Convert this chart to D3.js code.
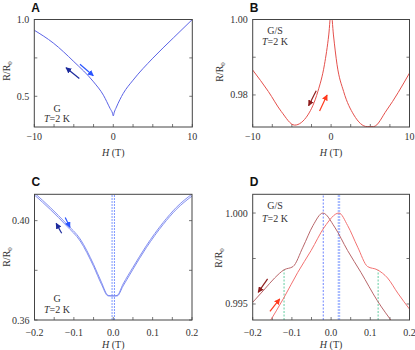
<!DOCTYPE html>
<html lang="en">
<head>
<meta charset="UTF-8">
<title>R/R0 vs H</title>
<style>
    body{margin:0;background:#fff;}
    svg{display:block;}
    .tick{font-family:"Liberation Serif",serif;font-size:10px;fill:#333;}
    .lbl{font-family:"Liberation Serif",serif;font-size:10px;fill:#333;}
    .pan{font-family:"Liberation Sans",Arial,sans-serif;font-size:12px;font-weight:bold;fill:#111;}
</style>
<script src="https://cdn.jsdelivr.net/npm/d3@7"></script>
</head>
<body>
<script>
// panel A : graphene, wide field
const hA = [-10,-7.6,-5,-2.5,-1.25,-0.4,-0.1,0,0.1,0.4,1.25,2.5,5,7.6,10]
const rA = [0.93,0.847,0.726,0.594,0.507,0.42,0.39,0.372,0.392,0.43,0.518,0.605,0.748,0.88,1.0]
// panel B : G/S, wide field
const hB = [-10,-8,-6.35,-4.65,-2.96,-1.69,-0.85,-0.3,0,0.3,0.76,1.6,2.9,4.6,5.4,7.1,10]
const rB = [0.9866,0.9809,0.9756,0.9720,0.9747,0.9809,0.988,0.9959,1.002,0.9959,0.988,0.9809,0.9747,0.9716,0.9716,0.976,0.9858]
// panel C : graphene, low field (two sweeps)
const hC = [-0.2,-0.16,-0.118,-0.084,-0.05,-0.03,-0.013,0,0.01,0.025,0.05,0.084,0.127,0.16,0.2]
const rCdown = [0.4111,0.4053,0.3986,0.3926,0.3824,0.3752,0.3699,0.3697,0.3697,0.3737,0.3804,0.3891,0.3985,0.4045,0.4099]
const rCup   = [0.4103,0.4045,0.3978,0.3918,0.3816,0.3744,0.3697,0.3697,0.3699,0.3745,0.3812,0.3899,0.3993,0.4053,0.4107]
// panel D : G/S, low field (two sweeps)
const hDdown = [-0.2,-0.169,-0.144,-0.12,-0.097,-0.072,-0.046,-0.021,0.009,0.042,0.076,0.118,0.16]
const rDdown = [0.99509,0.99583,0.99643,0.99688,0.99706,0.99812,0.99932,1.000,0.99923,0.99794,0.99674,0.99518,0.9939]
const hDup = [-0.16,-0.12,-0.085,-0.051,-0.017,0.02,0.042,0.068,0.093,0.118,0.144,0.17,0.2]
const rDup = [0.9939,0.99536,0.99674,0.99794,0.99923,1.000,0.99932,0.99812,0.99706,0.99688,0.99643,0.9956,0.99472]

const panels = [
    {id:"A", x0:34.3, x1:192.3, y0:19.5, y1:127, xd:[-10,10], yd:[0.30,1.0],
     xt:d3.range(-10,10.01,2.5), xl:[-10,0,10], xf:d3.format("d"),
     yt:[0.5,0.75,1.0], yl:[0.5,1.0], yf:d3.format(".1f"),
     ylab:[10,71], tbase:140, title:156, note:["G",57,111.5,121.5]},
    {id:"B", x0:252.7, x1:409.5, y0:19.5, y1:127, xd:[-10,10], yd:[0.9715,1.0],
     xt:d3.range(-10,10.01,2.5), xl:[-10,0,10], xf:d3.format("d"),
     yt:[0.98,0.99,1.0], yl:[0.98,1.0], yf:d3.format(".2f"),
     ylab:[223,72], tbase:140, title:156, note:["G/S",275,34,45]},
    {id:"C", x0:34.5, x1:192, y0:194.3, y1:320, xd:[-0.2,0.2], yd:[0.36,0.4106],
     xt:d3.range(-0.2,0.201,0.05), xl:[-0.2,-0.1,0,0.1,0.2], xf:d3.format(".1f"),
     yt:[0.36,0.38,0.40], yl:[0.36,0.40], yf:d3.format(".2f"),
     ylab:[10,257], tbase:336, title:348, note:["G",57,302,313]},
    {id:"D", x0:252.7, x1:409.5, y0:194.3, y1:320, xd:[-0.2,0.2], yd:[0.99412,1.00103],
     xt:d3.range(-0.2,0.201,0.05), xl:[-0.2,-0.1,0,0.1,0.2], xf:d3.format(".1f"),
     yt:[0.995,0.9975,1.0], yl:[0.995,1.0], yf:d3.format(".3f"),
     ylab:[222,258], tbase:336, title:348, note:["G/S",275,209,222]}
]

const svg = d3.select("body").append("svg").attr("width",415).attr("height",350)
const defs = svg.append("defs")

function marker(name,color){
    defs.append("marker").attr("id",name)
        .attr("viewBox","0 0 10 10").attr("refX",9).attr("refY",5)
        .attr("markerUnits","userSpaceOnUse")
        .attr("markerWidth",6).attr("markerHeight",6).attr("orient","auto")
        .append("path").attr("d","M0,0 L10,5 L0,10 Z").attr("fill",color)
}
marker("mBlue","#2a55ff")
marker("mNavy","#1c2a9c")
marker("mDark","#8e1c1c")
marker("mRed","#ff3a1e")

const sc = {}
panels.forEach(p=>{
    const x = d3.scaleLinear().domain(p.xd).range([p.x0,p.x1])
    const y = d3.scaleLinear().domain(p.yd).range([p.y1,p.y0])
    sc[p.id] = {x,y}
    const g = svg.append("g")

    defs.append("clipPath").attr("id","clip"+p.id).append("rect")
        .attr("x",p.x0).attr("y",p.y0).attr("width",p.x1-p.x0).attr("height",p.y1-p.y0)

    // inward ticks
    p.xt.forEach(t=>{
        g.append("line").attr("x1",x(t)).attr("x2",x(t))
            .attr("y1",p.y1).attr("y2",p.y1-3).attr("stroke","#555").attr("stroke-width",0.8)
    })
    p.yt.forEach(t=>{
        g.append("line").attr("x1",p.x0).attr("x2",p.x0+3)
            .attr("y1",y(t)).attr("y2",y(t)).attr("stroke","#555").attr("stroke-width",0.8)
        g.append("line").attr("x1",p.x1).attr("x2",p.x1-3)
            .attr("y1",y(t)).attr("y2",y(t)).attr("stroke","#555").attr("stroke-width",0.8)
    })
    p.xl.forEach(t=>{
        g.append("text").attr("class","tick").attr("x",x(t)).attr("y",p.tbase)
            .attr("text-anchor","middle").text(p.xf(t).replace("-","\u2212"))
    })
    p.yl.forEach(t=>{
        g.append("text").attr("class","tick").attr("x",p.x0-5).attr("y",y(t)).attr("dy","0.35em")
            .attr("text-anchor","end").text(p.yf(t))
    })

    // axis titles
    const xt = g.append("text").attr("class","lbl").attr("x",(p.x0+p.x1)/2).attr("y",p.title)
        .attr("text-anchor","middle")
    xt.append("tspan").attr("font-style","italic").text("H")
    xt.append("tspan").text(" (T)")
    const yt = g.append("text").attr("class","lbl")
        .attr("transform",`translate(${p.ylab[0]},${p.ylab[1]}) rotate(-90)`)
        .attr("text-anchor","middle")
    yt.append("tspan").text("R/R")
    yt.append("tspan").attr("font-size","7px").attr("dy","2").text("0")

    // notes
    g.append("text").attr("class","lbl").attr("x",p.note[1]).attr("y",p.note[2])
        .attr("text-anchor","middle").text(p.note[0])
    const tt = g.append("text").attr("class","lbl").attr("x",p.note[1]).attr("y",p.note[3])
        .attr("text-anchor","middle")
    tt.append("tspan").attr("font-style","italic").text("T")
    tt.append("tspan").text("=2 K")

    g.append("text").attr("class","pan").attr("x",p.x0-3).attr("y",p.y0-8).text(p.id)
    p.g = g
})

function curve(id,hs,rs,color,w){
    const s = sc[id]
    const line = d3.line().x(d=>s.x(d[0])).y(d=>s.y(d[1])).curve(d3.curveMonotoneX)
    svg.append("path").datum(d3.zip(hs,rs))
        .attr("clip-path",`url(#clip${id})`)
        .attr("d",line).attr("fill","none").attr("stroke",color).attr("stroke-width",w)
}
function vline(id,h,r0,r1,color,w,dash){
    const s = sc[id]
    svg.append("line").attr("x1",s.x(h)).attr("x2",s.x(h))
        .attr("y1",s.y(r0)).attr("y2",s.y(r1))
        .attr("stroke",color).attr("stroke-width",w).attr("stroke-dasharray",dash)
}
function arrow(id,h0,r0,h1,r1,color,m){
    const s = sc[id]
    svg.append("line").attr("x1",s.x(h0)).attr("y1",s.y(r0)).attr("x2",s.x(h1)).attr("y2",s.y(r1))
        .attr("stroke",color).attr("stroke-width",1.2).attr("marker-end",`url(#${m})`)
}

// A
curve("A",hA,rA,"#5b63e6",1)
arrow("A",-4.22,0.709,-2.53,0.634,"#2a55ff","mBlue")
arrow("A",-4.3,0.616,-5.99,0.686,"#1c2a9c","mNavy")

// B
curve("B",hB,rB,"#e4504c",1)
arrow("B",-1.9,0.9811,-2.87,0.97716,"#8e1c1c","mDark")
arrow("B",-1.47,0.97576,-0.51,0.9800,"#ff3a1e","mRed")

// C
vline("C",-0.003,0.36,0.4106,"#7d97ff",1,"2,1")
vline("C",0.003,0.36,0.4106,"#7d97ff",1,"2,1")
curve("C",hC,rCdown,"#7582ee",0.9)
curve("C",hC,rCup,"#7582ee",0.9)
arrow("C",-0.122,0.4013,-0.11,0.3973,"#2a55ff","mBlue")
arrow("C",-0.131,0.3949,-0.145,0.3989,"#1c2a9c","mNavy")

// D
vline("D",-0.02,0.99412,1.00103,"#4a66ff",0.8,"2,1.5")
vline("D",0.02,0.99412,1.00103,"#aabdff",2.5,"2,1")
vline("D",-0.12,0.99412,0.99688,"#3cc08a",0.8,"2,1.5")
vline("D",0.12,0.99412,0.99688,"#3cc08a",0.8,"2,1.5")
curve("D",hDdown,rDdown,"#b8666a",1)
curve("D",hDup,rDup,"#f27272",1)
arrow("D",-0.162,0.99638,-0.186,0.99564,"#8e1c1c","mDark")
arrow("D",-0.156,0.99459,-0.131,0.99528,"#ff3a1e","mRed")

// frames on top
panels.forEach(p=>{
    svg.append("rect").attr("x",p.x0).attr("y",p.y0)
        .attr("width",p.x1-p.x0).attr("height",p.y1-p.y0)
        .attr("fill","none").attr("stroke","#444").attr("stroke-width",1)
})
</script>
</body>
</html>
